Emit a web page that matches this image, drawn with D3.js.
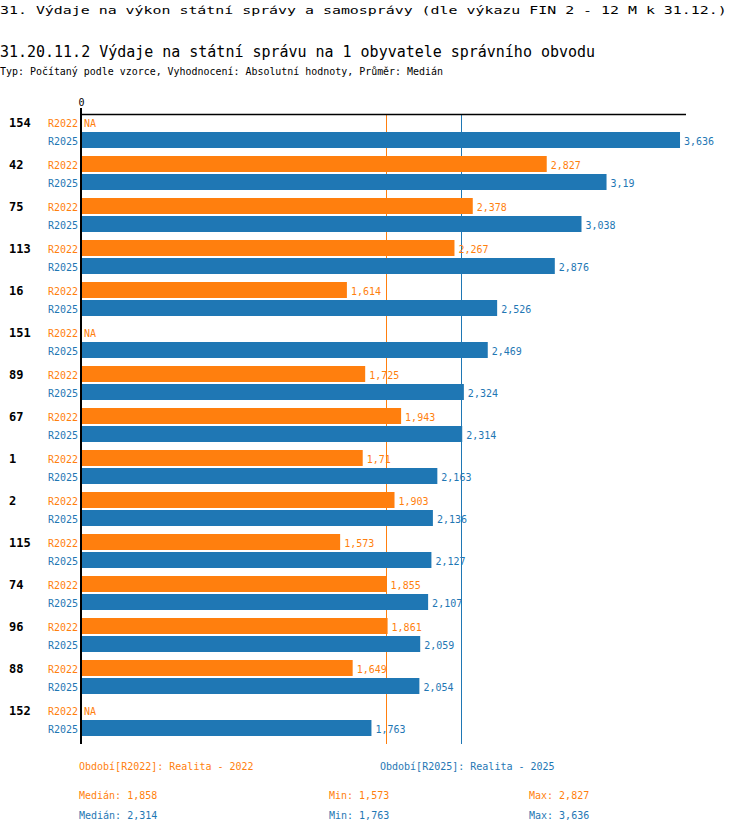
<!DOCTYPE html>
<html>
<head>
<meta charset="utf-8">
<script src="https://cdn.jsdelivr.net/npm/d3@7"></script>
<style>
  body { margin: 0; background: #fff; }
  svg text { font-family: "DejaVu Sans Mono", monospace; }
</style>
</head>
<body>
<svg id="chart" width="750" height="834"></svg>
<script>
// data
const groups = ["154", "42", "75", "113", "16", "151", "89", "67", "1", "2", "115", "74", "96", "88", "152"];
const series = ["R2022", "R2025"];
const values2022 = [null, 2.827, 2.378, 2.267, 1.614, null, 1.725, 1.943, 1.71, 1.903, 1.573, 1.855, 1.861, 1.649, null];
const values2025 = [3.636, 3.19, 3.038, 2.876, 2.526, 2.469, 2.324, 2.314, 2.163, 2.136, 2.127, 2.107, 2.059, 2.054, 1.763];
const legendLabels = ["Období[R2022]: Realita - 2022", "Období[R2025]: Realita - 2025"];

const colors = { R2022: "#ff7f0e", R2025: "#1f77b4" };
const seriesValues = { R2022: values2022, R2025: values2025 };

const locale = d3.formatLocale({ decimal: ",", thousands: " ", grouping: [3], currency: ["", ""] });
const fmt = locale.format(".3~f");

const svg = d3.select("#chart");
const margin = { top: 114, left: 81, right: 64, bottom: 90 };
const width = 750, height = 834;

// headings - title 1 is a wide, short face in the original, so stretch it sideways
const t1 = svg.append("text").attr("x", 0).attr("y", 14)
  .attr("font-size", 11)
  .text("31. Výdaje na výkon státní správy a samosprávy (dle výkazu FIN 2 - 12 M k 31.12.)");
const t1w = t1.node().getComputedTextLength();
t1.attr("transform", `scale(${727 / t1w},1)`);

svg.append("text").attr("x", 0).attr("y", 57)
  .attr("font-size", 15).attr("textLength", 595).attr("lengthAdjust", "spacingAndGlyphs")
  .text("31.20.11.2 Výdaje na státní správu na 1 obyvatele správního obvodu");
svg.append("text").attr("x", 0).attr("y", 75)
  .attr("font-size", 10).attr("textLength", 443).attr("lengthAdjust", "spacingAndGlyphs")
  .text("Typ: Počítaný podle vzorce, Vyhodnocení: Absolutní hodnoty, Průměr: Medián");

const allVals = values2022.concat(values2025).filter(v => v != null);
const x = d3.scaleLinear().domain([0, d3.max(allVals) * 1.01]).range([margin.left, width - margin.right]);
const y0 = d3.scaleBand().domain(groups).range([margin.top, height - margin.bottom]);
const y1 = d3.scaleBand().domain(series).range([0, 34]).paddingInner(1 / 9);

const rows = [];
groups.forEach((g, i) => {
  series.forEach(s => rows.push({ group: g, series: s, value: seriesValues[s][i] }));
});

// median lines
series.forEach(s => {
  const med = d3.median(seriesValues[s].filter(v => v != null));
  svg.append("line")
    .attr("x1", Math.floor(x(med)) - 0.5).attr("x2", Math.floor(x(med)) - 0.5)
    .attr("y1", margin.top).attr("y2", height - margin.bottom)
    .attr("stroke", colors[s]).attr("stroke-width", 1);
});

// bars
const gRows = svg.append("g").selectAll("g").data(rows).join("g")
  .attr("transform", d => `translate(0,${y0(d.group) + y1(d.series)})`);

gRows.filter(d => d.value != null).append("rect")
  .attr("x", x(0))
  .attr("width", d => x(d.value) - x(0))
  .attr("height", y1.bandwidth())
  .attr("fill", d => colors[d.series]);

gRows.append("text")
  .attr("x", d => d.value != null ? x(d.value) + 4 : x(0) + 3)
  .attr("y", 13)
  .attr("font-size", 10)
  .attr("fill", d => colors[d.series])
  .text(d => d.value != null ? fmt(d.value) : "NA");

gRows.append("text")
  .attr("x", x(0) - 3)
  .attr("y", 13)
  .attr("text-anchor", "end")
  .attr("font-size", 10)
  .attr("fill", d => colors[d.series])
  .text(d => d.series);

// group labels
svg.append("g").selectAll("text").data(groups).join("text")
  .attr("x", 9)
  .attr("y", d => y0(d) + 13)
  .attr("font-size", 12)
  .attr("font-weight", "bold")
  .text(d => d);

// axes
const xAxis = svg.append("g").attr("transform", `translate(0,${margin.top})`)
  .call(d3.axisTop(x).tickValues([0]).tickSize(6).tickSizeOuter(0).tickFormat(d => d));
xAxis.select(".domain").attr("stroke", "#000").attr("stroke-width", 1.5).attr("d", `M${x(0)},0.5H${x.range()[1]}`);
xAxis.selectAll(".tick line").remove();
xAxis.selectAll(".tick text").attr("font-size", 10).attr("font-family", "DejaVu Sans Mono").attr("dy", 0).attr("y", -8);

svg.append("line")
  .attr("x1", x(0)).attr("x2", x(0))
  .attr("y1", margin.top - 6).attr("y2", height - margin.bottom)
  .attr("stroke", "#000").attr("stroke-width", 2);

// legend
const legendX = [79, 380];
series.forEach((s, i) => {
  svg.append("text").attr("x", legendX[i]).attr("y", 770)
    .attr("font-size", 10).attr("fill", colors[s]).text(legendLabels[i]);
});

// stats
series.forEach((s, i) => {
  const vals = seriesValues[s].filter(v => v != null);
  const yy = 799 + i * 20;
  const stats = [["Medián: ", d3.median(vals), 79], ["Min: ", d3.min(vals), 329], ["Max: ", d3.max(vals), 529]];
  stats.forEach(([lab, v, xx]) => {
    svg.append("text").attr("x", xx).attr("y", yy)
      .attr("font-size", 10).attr("fill", colors[s]).text(lab + fmt(v));
  });
});
</script>
</body>
</html>
